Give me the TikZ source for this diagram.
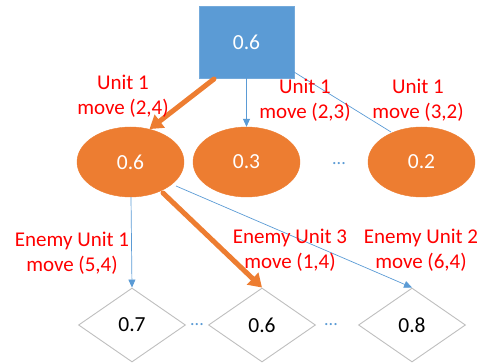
\documentclass[tikz,border=0pt]{standalone}
\usepackage{fontspec}
\setmainfont{Carlito}
\usetikzlibrary{shapes.geometric,arrows.meta}
\definecolor{nodeblue}{HTML}{5B9BD5}
\definecolor{nodeorange}{HTML}{ED7D31}
\definecolor{labelred}{HTML}{FF0000}
\definecolor{edgegray}{HTML}{BFBFBF}
\tikzset{
  rootbox/.style={rectangle, fill=nodeblue, draw=nodeblue!85!white, line width=0.8pt,
    minimum width=95pt, minimum height=72pt, inner sep=0pt,
    text=white, font=\fontsize{21.5}{25}\selectfont},
  unitnode/.style={ellipse, fill=nodeorange, draw=nodeorange, inner sep=0pt,
    minimum width=107pt, minimum height=70pt,
    text=white, font=\fontsize{21.5}{25}\selectfont},
  leafnode/.style={diamond, fill=white, draw=edgegray, line width=0.9pt, inner sep=0pt,
    minimum width=107pt, minimum height=74pt,
    text=black, font=\fontsize{21.5}{25}\selectfont},
  movelabel/.style={text=labelred, align=center, font=\fontsize{21}{25.5}\selectfont, inner sep=0pt},
  dots/.style={text=nodeblue, font=\fontsize{18}{20}\selectfont, inner sep=0pt},
  thinedge/.style={draw=nodeblue, line width=0.7pt, -{Triangle[width=7pt,length=8pt]}},
  plainedge/.style={draw=nodeblue, line width=0.7pt},
  bestedge/.style={draw=nodeorange, line width=5pt, line cap=round,
    -{Triangle[width=16pt,length=13pt]}},
}
\begin{document}
\begin{tikzpicture}[x=1pt,y=-1pt]
\useasboundingbox (0,0) rectangle (484,363);

% tree nodes
\node[rootbox] (root) at (246.5,42) {0.6};
\node[unitnode] (u1) at (130.5,162) {0.6};
\node[unitnode] (u2) at (246.5,162) {0.3};
\node[unitnode] (u3) at (421.5,162) {0.2};
\node[dots] (udots) at (339,164) {...};

\node[leafnode] (e1) at (132,325) {0.7};
\node[leafnode] (e2) at (262,325) {0.6};
\node[leafnode] (e3) at (412,325) {0.8};
\node[dots] (edots1) at (197,325) {...};
\node[dots] (edots2) at (331,325) {...};

% edges from the root
\coordinate (r1) at (214,79);
\coordinate (r3) at (294,72);
\coordinate (u3in) at (391,132);
\draw[plainedge] (r3) -- (u3in);
\draw[thinedge] (root.south) -- (u2.north);
\draw[bestedge] (r1) -- (u1.60);

% edges from the chosen unit move
\coordinate (a1) at (131,197);
\coordinate (a2) at (163,193);
\coordinate (a3) at (176,186);
\draw[thinedge] (a1) -- (e1.north);
\draw[thinedge] (a3) -- (e3.north);
\draw[bestedge] (a2) -- (e2.north);

% move labels
\node[movelabel] (l1) at (123,96) {Unit 1\\move (2,4)};
\node[movelabel] (l2) at (305,100) {Unit 1\\move (2,3)};
\node[movelabel] (l3) at (418,100) {Unit 1\\move (3,2)};
\node[movelabel] (l4) at (72,253) {Enemy Unit 1\\move (5,4)};
\node[movelabel] (l5) at (290,250) {Enemy Unit 3\\move (1,4)};
\node[movelabel] (l6) at (421,250) {Enemy Unit 2\\move (6,4)};
\end{tikzpicture}
\end{document}
